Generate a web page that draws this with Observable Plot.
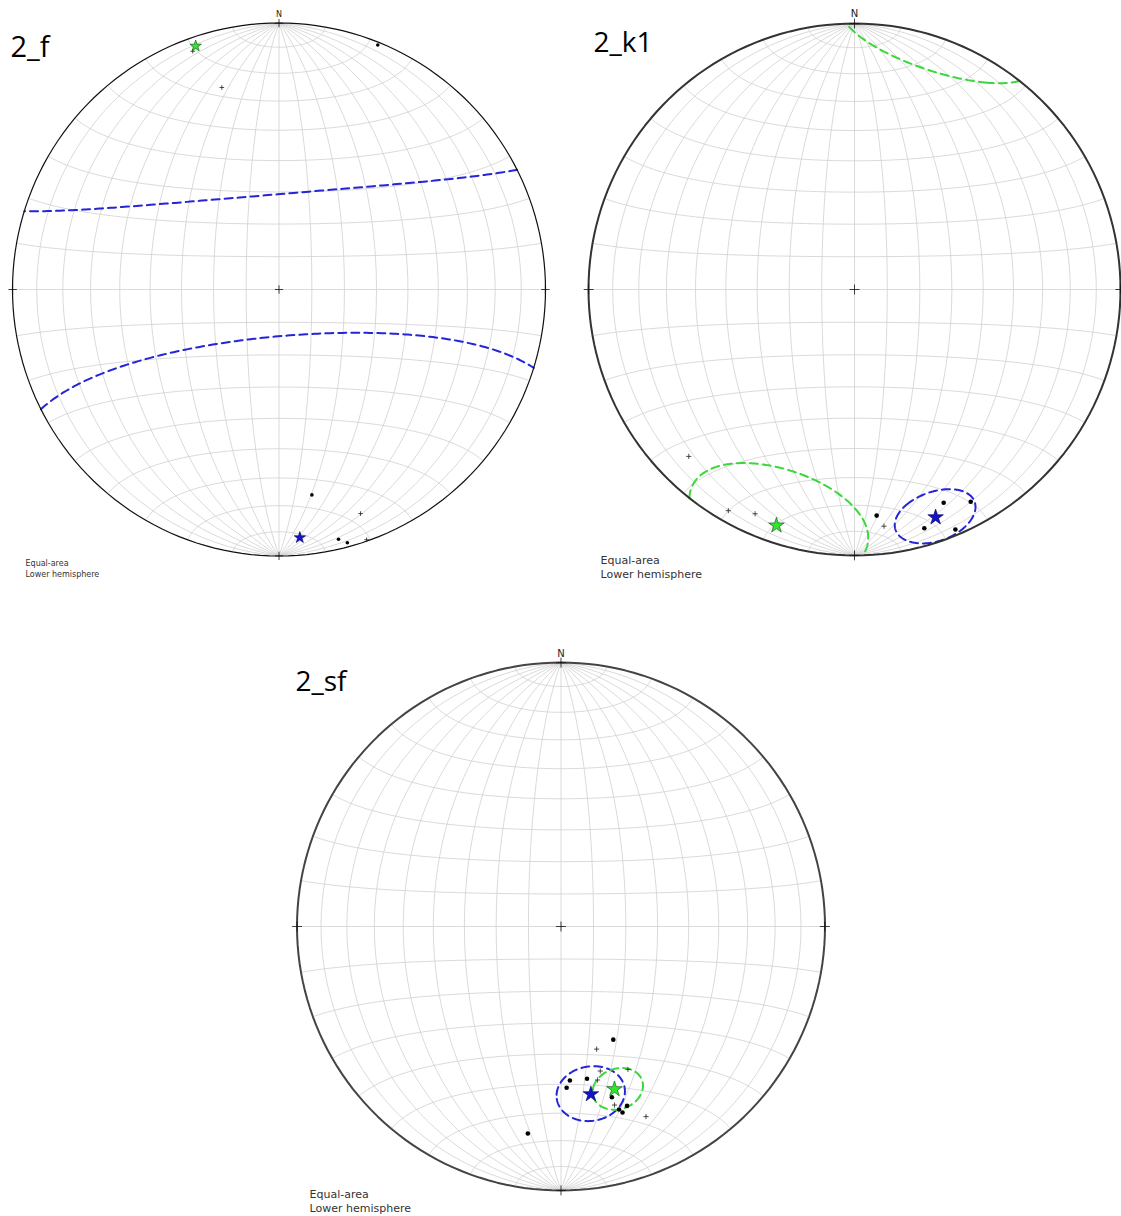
<!DOCTYPE html>
<html><head><meta charset="utf-8">
<script src="https://cdn.jsdelivr.net/npm/d3@7"></script>
<script src="https://cdn.jsdelivr.net/npm/@observablehq/plot@0.6"></script>
<style>
html,body{margin:0;padding:0;background:#fff;}
#page{position:relative;width:1121px;height:1216px;overflow:hidden;background:#fff;}
</style></head><body><div id="page"></div>
<script>
// ---- data: lines as [trend°, plunge°] (lower hemisphere) ----
// 2_f
const f_dots  = [[22.0,1.2],[170.9,23.0],[166.6,4.1],[164.9,1.8]];
const f_plus  = [[340.1,5.5],[344.2,22.3],[160.0,11.5],[160.7,0.6]];
const f_stars = [{trend:341.1,plunge:3.9,set:"green"},{trend:175.2,plunge:7.3,set:"blue"}];
const f_cones = [{trend:175.2,plunge:7.5,radius:68.3,set:"blue"}];
// 2_k1
const k1_dots  = [[174.4,15.7],[163.7,7.2],[157.3,14.2],[151.3,9.9],[157.2,2.4]];
const k1_plus  = [[224.8,12.6],[209.7,4.8],[203.9,8.6],[172.9,11.3]];
const k1_stars = [{trend:198.3,plunge:7.3,set:"green"},{trend:160.4,plunge:10.0,set:"blue"}];
const k1_cones = [{trend:198.3,plunge:7.3,radius:21.3,set:"green"},{trend:160.4,plunge:10.0,radius:9.8,set:"blue"}];
// 2_sf
const sf_dots  = [[155.2,51.0],[170.3,41.1],[176.7,41.2],[178.0,38.8],[163.4,33.0],[159.8,28.4],[161.7,26.7],[162.4,28.1],[189.1,21.7]];
const sf_plus  = [[163.8,50.0],[164.8,42.7],[154.9,40.0],[166.6,40.0],[163.3,30.1],[155.9,22.2]];
const sf_stars = [{trend:169.9,plunge:35.7,set:"blue"},{trend:161.8,plunge:35.4,set:"green"}];
const sf_cones = [{trend:169.9,plunge:35.7,radius:9.4,set:"blue"},{trend:160.7,plunge:35.0,radius:7.0,set:"green"}];

const titles = ["2_f","2_k1","2_sf"];
const note = "Equal-area\nLower hemisphere";
const cardinal = [[0,0.05],[90,0.05],[180,0.05],[270,0.05],[0,90]];

const lineColor = {blue:"#2424d8", green:"#3ad83a"};
const starFill = {blue:"#1414c8", green:"#2ee62e"};
const starStroke = {blue:"#000050", green:"#0b4d0b"};

// line (trend, plunge) -> lon/lat in an equatorial frame whose centre is the nadir
const RAD = Math.PI/180;
function toLL(t, p) {
  const tr = t*RAD, pr = p*RAD;
  const n = Math.cos(pr)*Math.cos(tr), e = Math.cos(pr)*Math.sin(tr), d = Math.sin(pr);
  return [Math.atan2(e, d)/RAD, Math.asin(Math.max(-1, Math.min(1, n)))/RAD];
}
const circ = (c, r) => ({type:"LineString", coordinates: d3.geoCircle().center(c).radius(r).precision(1)().coordinates[0]});
const graticule = d3.geoGraticule().extent([[-180,-89.999],[180,89.999]]).step([10,10]);

function net(o) {
  const proj = d3.geoAzimuthalEqualArea().rotate([0,0]).clipAngle(90).precision(0.1)
    .scale(o.R/Math.SQRT2).translate([o.cx, o.cy]);
  const X = d => toLL(d[0], d[1])[0], Y = d => toLL(d[0], d[1])[1];
  const marks = [
    Plot.geo(graticule.lines(), {stroke:"#d0d0d0", strokeWidth:0.8}),
  ];
  for (const c of o.cones) {
    marks.push(Plot.geo([circ(toLL(c.trend, c.plunge), c.radius), circ(toLL(c.trend+180, -c.plunge), c.radius)],
      {stroke: lineColor[c.set], strokeWidth: 2, strokeDasharray: "8,5", fill: "none"}));
  }
  marks.push(
    Plot.geo([{type:"Sphere"}], {stroke:o.rimColor, strokeWidth:o.rimWidth, fill:"none"}),
    Plot.dot(cardinal, {x:X, y:Y, symbol:"plus", r:o.crossR, stroke:"#111", strokeWidth:0.8}),
    Plot.dot(o.plus, {x:X, y:Y, symbol:"plus", r:o.plusR, stroke:"#222", strokeWidth:0.8}),
    Plot.dot(o.dots, {x:X, y:Y, symbol:"circle", r:o.dotR, fill:"#000", stroke:"none"}),
    Plot.dot(o.stars, {x:d=>toLL(d.trend,d.plunge)[0], y:d=>toLL(d.trend,d.plunge)[1], symbol:"star", r:o.starR,
      fill:d=>starFill[d.set], stroke:d=>starStroke[d.set], strokeWidth:0.6}),
    Plot.text([[0,0.05]], {x:X, y:Y, text:()=>"N", dy:o.nDy, lineAnchor:"bottom", fontSize:o.nSize, fill:"#222", fontFamily:"DejaVu Sans"}),
    Plot.text([o.title], {text:d=>d, frameAnchor:"top-left", dx:o.titleX, dy:o.titleY, lineAnchor:"bottom", textAnchor:"start",
      fontSize:o.titleSize, fontFamily:"Open Sans", fill:"#000"}),
    Plot.text([note], {text:d=>d, frameAnchor:"top-left", dx:o.noteX, dy:o.noteY, lineAnchor:"bottom", textAnchor:"start",
      fontSize:o.noteSize, lineHeight:1.27, fontFamily:"DejaVu Sans", fill:"#333"})
  );
  const svg = Plot.plot({
    width:o.w, height:o.h, margin:0, projection:proj, marks,
    style:{position:"absolute", left:o.left+"px", top:o.top+"px", background:"transparent", maxWidth:"none", overflow:"visible"}
  });
  document.getElementById("page").appendChild(svg);
}

net({left:0, top:0, w:560, h:600, cx:278.5, cy:289, R:266.5, rimColor:"#111", rimWidth:1.2,
  cones:f_cones, dots:f_dots, plus:f_plus, stars:f_stars, dotR:1.8, plusR:1.6, starR:3.6, crossR:2.8,
  nDy:-6, nSize:8, title:titles[0], titleX:10, titleY:56, titleSize:29, noteX:25, noteY:576, noteSize:8});
net({left:560, top:0, w:561, h:600, cx:294, cy:289, R:266, rimColor:"#333", rimWidth:2,
  cones:k1_cones, dots:k1_dots, plus:k1_plus, stars:k1_stars, dotR:2.3, plusR:1.8, starR:4.9, crossR:3.3,
  nDy:-7, nSize:10, title:titles[1], titleX:33, titleY:51, titleSize:28, noteX:40, noteY:577, noteSize:11});
net({left:260, top:630, w:600, h:586, cx:300.5, cy:296, R:264, rimColor:"#444", rimWidth:2,
  cones:sf_cones, dots:sf_dots, plus:sf_plus, stars:sf_stars, dotR:2.3, plusR:1.8, starR:4.9, crossR:3.3,
  nDy:-6, nSize:10, title:titles[2], titleX:35, titleY:60, titleSize:28, noteX:49, noteY:581, noteSize:11});
</script></body></html>
